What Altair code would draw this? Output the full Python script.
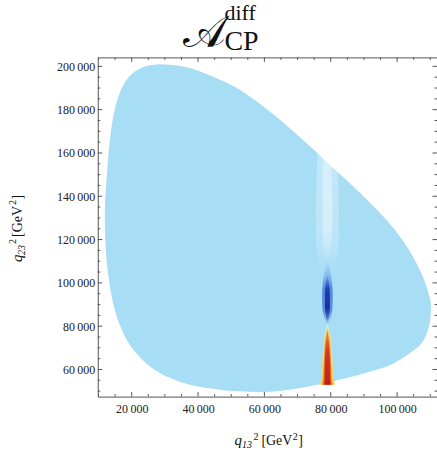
import altair as alt
import pandas as pd

# ---------------- data ----------------
# Dalitz boundary, traced clockwise from its leftmost point
bound_q13 = [11900, 12000, 12500, 13100, 14000, 15200, 16700, 18800, 21500, 24500,
             27500, 31400, 35900, 40500, 49500, 55500, 64500, 74400, 79500, 88600,
             97600, 103600, 107500, 109600, 110200, 109600, 107500, 103600, 97600, 88600,
             82600, 74400, 67500, 60000, 54000, 46500, 38900, 32900, 28400, 24500,
             21200, 18500, 16400, 14900, 13700, 12800, 12200]
bound_q23 = [126700, 138300, 149800, 161300, 172800, 182000, 188900, 194500, 198200, 200200,
             200900, 200700, 199800, 197700, 191700, 186200, 175600, 162200, 154800, 141900,
             127700, 115200, 103700, 94500, 88500, 79700, 72400, 67300, 61800, 57600,
             55300, 52500, 50700, 49600, 49800, 50700, 52500, 55300, 58500, 62700,
             67800, 73700, 80700, 87600, 95900, 105100, 115200]

# narrow resonance stripe near q13^2 ~ 79 000: extents (left/right) per q23^2
halo_y = [104000, 112000, 122000, 134000, 146000, 160000]
halo_left = [77800, 76000, 75500, 75500, 75700, 76000]
halo_right = [80200, 82000, 82500, 82500, 82300, 82000]

halo2_y = [110000, 120000, 132000, 144000, 158000]
halo2_left = [78200, 77700, 77500, 77600, 77800]
halo2_right = [79800, 80300, 80500, 80400, 80200]

blue_y = [81200, 84000, 88000, 94000, 100000, 105000, 111000]
blue_left = [78700, 78000, 77500, 77400, 77600, 78100, 78800]
blue_right = [79300, 80000, 80500, 80600, 80400, 79900, 79200]

core_y = [82500, 86000, 90000, 95000, 99000, 103000]
core_left = [78850, 78400, 78250, 78250, 78450, 78850]
core_right = [79150, 79600, 79750, 79750, 79550, 79150]

yellow_y = [53000, 56000, 60000, 65000, 70000, 75000, 78500, 81000]
yellow_left = [76700, 77100, 77300, 77500, 77700, 78000, 78500, 79000]
yellow_right = [81300, 80900, 80700, 80500, 80300, 80000, 79500, 79000]

orange_y = [53000, 56000, 60000, 65000, 70000, 75000, 79500]
orange_left = [77400, 77700, 77800, 77950, 78100, 78400, 79000]
orange_right = [80600, 80300, 80200, 80050, 79900, 79600, 79000]

red_y = [53000, 56000, 60000, 65000, 70000, 74000, 78000]
red_left = [78000, 78150, 78150, 78250, 78450, 78650, 79000]
red_right = [80000, 79850, 79850, 79750, 79550, 79350, 79000]

# axis ticks
x_major = [20000, 40000, 60000, 80000, 100000]
y_major = [60000, 80000, 100000, 120000, 140000, 160000, 180000, 200000]
x_minor = [v for v in range(10000, 111000, 5000) if v not in x_major]
y_minor = [v for v in range(50000, 204000, 5000) if v not in y_major]

# ---------------- chart ----------------
W, H = 340, 340
xsc = alt.Scale(domain=[9774, 112029], nice=False, zero=False)
ysc = alt.Scale(domain=[47475, 204147], nice=False, zero=False)
SERIF = "Liberation Serif"
LBL = "replace(format(datum.value, ','), ',', '\u2009')"
TICK = "#555555"

XAX = alt.Axis(values=x_major, title=None, ticks=False, domain=False, grid=False,
               labelFont=SERIF, labelFontSize=12, labelColor="#222",
               labelPadding=7, labelExpr=LBL)
YAX = alt.Axis(values=y_major, title=None, ticks=False, domain=False, grid=False,
               labelFont=SERIF, labelFontSize=12, labelColor="#222",
               labelPadding=3, labelExpr=LBL)

base_df = pd.DataFrame({"q13": bound_q13, "q23": bound_q23,
                        "i": list(range(len(bound_q13)))})
base = alt.Chart(base_df).mark_line(filled=True, color="#a7ddf5",
                                    interpolate="cardinal-closed").encode(
    x=alt.X("q13:Q", scale=xsc, axis=XAX),
    y=alt.Y("q23:Q", scale=ysc, axis=YAX),
    order="i:Q",
)


def grad(stops):
    return alt.Gradient(gradient="linear",
                        stops=[alt.GradientStop(color=c, offset=o) for o, c in stops],
                        x1=0, x2=0, y1=1, y2=0)


def strip(ys, ls, rs, stops):
    df = pd.DataFrame({"y": ys, "l": ls, "r": rs})
    return alt.Chart(df).mark_area(orient="horizontal", color=grad(stops),
                                   interpolate="monotone").encode(
        y=alt.Y("y:Q", scale=ysc, axis=YAX),
        x=alt.X("l:Q", scale=xsc, axis=XAX),
        x2="r:Q",
    )


stripes = [
    strip(halo_y, halo_left, halo_right,
          [(0, "rgba(255,255,255,0)"), (0.25, "rgba(255,255,255,0.22)"),
           (0.6, "rgba(255,255,255,0.28)"), (1, "rgba(255,255,255,0.3)")]),
    strip(halo2_y, halo2_left, halo2_right,
          [(0, "rgba(255,255,255,0)"), (0.3, "rgba(255,255,255,0.35)"),
           (1, "rgba(255,255,255,0.35)")]),
    strip(blue_y, blue_left, blue_right,
          [(0, "rgba(120,170,235,0.3)"), (0.2, "rgba(70,120,220,0.8)"),
           (0.55, "rgba(60,110,215,0.75)"), (1, "rgba(120,180,235,0)")]),
    strip(core_y, core_left, core_right,
          [(0, "rgba(20,40,150,0.3)"), (0.3, "#1b2f9c"), (0.7, "#2040b0"),
           (1, "rgba(40,80,190,0.2)")]),
    strip(yellow_y, yellow_left, yellow_right,
          [(0, "#f2d35e"), (0.8, "rgba(245,225,130,0.9)"), (1, "rgba(250,240,200,0.6)")]),
    strip(orange_y, orange_left, orange_right,
          [(0, "#ea7d25"), (0.7, "#ef9a3a"), (1, "rgba(240,180,90,0.6)")]),
    strip(red_y, red_left, red_right,
          [(0, "#c21f1a"), (0.6, "#cf3a1f"), (1, "rgba(225,110,50,0.6)")]),
]


def yticks(vals, length):
    df = pd.DataFrame({"v": vals})
    left = alt.Chart(df).mark_rule(color=TICK, strokeWidth=1).encode(
        y=alt.Y("v:Q", scale=ysc, axis=YAX), x=alt.value(0), x2=alt.value(length))
    right = alt.Chart(df).mark_rule(color=TICK, strokeWidth=1).encode(
        y=alt.Y("v:Q", scale=ysc, axis=YAX), x=alt.value(W), x2=alt.value(W - length))
    return [left, right]


def xticks(vals, length):
    df = pd.DataFrame({"v": vals})
    bottom = alt.Chart(df).mark_rule(color=TICK, strokeWidth=1).encode(
        x=alt.X("v:Q", scale=xsc, axis=XAX), y=alt.value(H), y2=alt.value(H - length))
    top = alt.Chart(df).mark_rule(color=TICK, strokeWidth=1).encode(
        x=alt.X("v:Q", scale=xsc, axis=XAX), y=alt.value(0), y2=alt.value(length))
    return [bottom, top]


ticks = yticks(y_major, 4.5) + yticks(y_minor, 2.5) + xticks(x_major, 4.5) + xticks(x_minor, 2.5)

one = pd.DataFrame({"a": [0]})


def txt(s, x, y, size, italic=False, angle=0, align="left"):
    kw = dict(text=s, font=SERIF, fontSize=size, align=align, baseline="alphabetic",
              color="#111")
    if italic:
        kw["fontStyle"] = "italic"
    if angle:
        kw["angle"] = angle
    return alt.Chart(one).mark_text(**kw).encode(x=alt.value(x), y=alt.value(y))


texts = [
    # title  A_CP^diff
    txt("\U0001D49C", 107, -10, 45, align="center"),
    txt("diff", 127, -37, 22),
    txt("CP", 127, -7, 28),
    # x title  q13^2 [GeV^2]
    txt("q", 137, 389, 15, italic=True),
    txt("13", 144.5, 392, 10, italic=True),
    txt("2", 156, 383, 10),
    txt("[GeV", 164, 389, 14),
    txt("2", 195.5, 383, 10),
    txt("]", 201, 389, 14),
    # y title  q23^2 [GeV^2]
    txt("q", -76, 205, 15, italic=True, angle=270),
    txt("23", -73, 198, 10, italic=True, angle=270),
    txt("2", -82, 187, 10, angle=270),
    txt("[GeV", -76, 180, 14, angle=270),
    txt("2", -82, 148, 10, angle=270),
    txt("]", -76, 142.5, 14, angle=270),
]

chart = alt.layer(base, *stripes, *ticks, *texts).properties(
    width=W, height=H,
    autosize=alt.AutoSizeParams(type="none"),
    padding={"left": 98, "top": 57, "right": 0, "bottom": 56},
).configure_view(stroke="#555555", strokeWidth=1)

chart.save("out.html", embed_options={"renderer": "svg", "actions": False})
